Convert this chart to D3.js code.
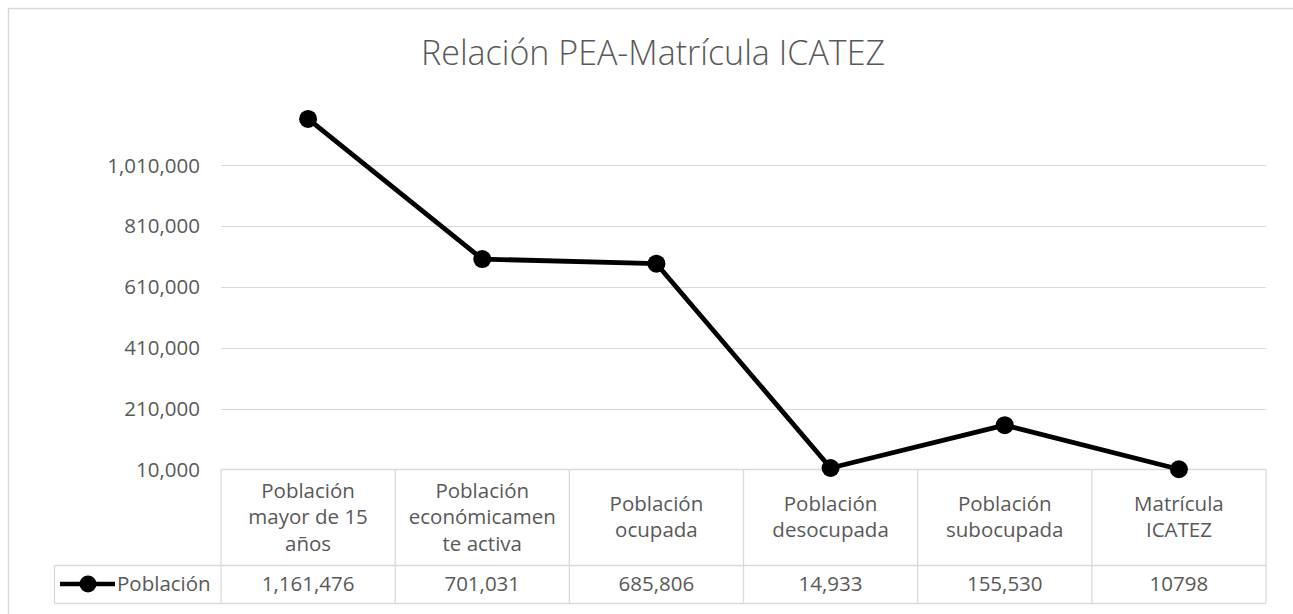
<!DOCTYPE html>
<html><head><meta charset="utf-8">
<script src="https://cdn.jsdelivr.net/npm/d3@7/dist/d3.min.js"></script>
<style>
html,body{margin:0;padding:0;background:#fff;}
svg{display:block;font-family:"Open Sans",Lato,sans-serif;}
</style></head><body>
<svg id="chart" width="1293" height="614"></svg>
<script>
const title = "Relación PEA-Matrícula ICATEZ";
const seriesName = "Población";
const categories = [
  ["Población", "mayor de 15", "años"],
  ["Población", "económicamen", "te activa"],
  ["Población", "ocupada"],
  ["Población", "desocupada"],
  ["Población", "subocupada"],
  ["Matrícula", "ICATEZ"]
];
const values = [1161476, 701031, 685806, 14933, 155530, 10798];
const valueLabels = ["1,161,476", "701,031", "685,806", "14,933", "155,530", "10798"];
const yTicks = [10000, 210000, 410000, 610000, 810000, 1010000];
const yDomain = [10000, 1210000];

const svg = d3.select("#chart");
const grey = "#d9d9d9", txt = "#595959";
const fs = 20.5;
const ff = "'Open Sans',Lato,sans-serif";

// outer frame
svg.append("rect").attr("x", 8.5).attr("y", 8.5).attr("width", 1300).attr("height", 620)
  .attr("fill", "none").attr("stroke", grey).attr("stroke-width", 1.5);

const left = 221, right = 1266;
const x = d3.scaleBand().domain(d3.range(categories.length)).range([left, right]);
const y = d3.scaleLinear().domain(yDomain).range([469.5, 104.1]);

// gridlines
svg.append("g").selectAll("line").data(yTicks.slice(1)).join("line")
  .attr("x1", left).attr("x2", right)
  .attr("y1", d => Math.round(y(d)) + 0.5).attr("y2", d => Math.round(y(d)) + 0.5)
  .attr("stroke", grey).attr("stroke-width", 1);

// y-axis labels
const yAxis = d3.axisLeft(y).tickValues(yTicks).tickSize(0).tickPadding(0)
  .tickFormat(d3.format(","));
const ya = svg.append("g").attr("transform", `translate(200,0)`).call(yAxis);
ya.select(".domain").remove();
ya.selectAll("text").attr("fill", txt).attr("font-size", fs).attr("dy", 7)
  .style("font-family", ff);

// title
svg.append("text").attr("x", 653).attr("y", 65).attr("text-anchor", "middle")
  .attr("font-size", 34).attr("font-weight", 300).attr("fill", txt).text(title);

// data table
const tTop = 469.5, tMid = 565.5, tBot = 603.5, legLeft = 54.5;
const tg = svg.append("g").attr("stroke", grey).attr("stroke-width", 1.3).attr("fill", "none");
tg.append("line").attr("x1", left).attr("x2", right).attr("y1", tTop).attr("y2", tTop);
tg.append("line").attr("x1", legLeft).attr("x2", right).attr("y1", tMid).attr("y2", tMid);
tg.append("line").attr("x1", legLeft).attr("x2", right).attr("y1", tBot).attr("y2", tBot);
tg.append("line").attr("x1", legLeft).attr("x2", legLeft).attr("y1", tMid).attr("y2", tBot);
tg.selectAll(".v").data(d3.range(categories.length + 1)).join("line")
  .attr("x1", i => i < categories.length ? x(i) : right)
  .attr("x2", i => i < categories.length ? x(i) : right)
  .attr("y1", tTop).attr("y2", tBot);

// category labels
const lh = 26.5;
const cg = svg.append("g").attr("fill", txt).attr("font-size", fs).attr("text-anchor", "middle");
categories.forEach((lines, i) => {
  const cx = x(i) + x.bandwidth() / 2;
  const midY = (tTop + tMid) / 2;
  const y0 = midY - (lines.length - 1) * lh / 2 + 6.5;
  lines.forEach((l, j) => {
    cg.append("text").attr("x", cx).attr("y", y0 + j * lh).text(l);
  });
});
// value labels
svg.append("g").attr("fill", txt).attr("font-size", fs).attr("text-anchor", "middle")
  .selectAll("text").data(valueLabels).join("text")
  .attr("x", (d, i) => x(i) + x.bandwidth() / 2).attr("y", (tMid + tBot) / 2 + 6.5).text(d => d);

// legend key
svg.append("line").attr("x1", 60).attr("x2", 115).attr("y1", 584).attr("y2", 584)
  .attr("stroke", "#000").attr("stroke-width", 4.5);
svg.append("circle").attr("cx", 88).attr("cy", 584).attr("r", 8.5).attr("fill", "#000");
svg.append("text").attr("x", 117).attr("y", 591).attr("fill", txt).attr("font-size", fs).text(seriesName);

// series line
const line = d3.line().x((d, i) => x(i) + x.bandwidth() / 2).y(d => y(d));
svg.append("path").datum(values).attr("d", line).attr("fill", "none")
  .attr("stroke", "#000").attr("stroke-width", 4.8).attr("stroke-linejoin", "round");
svg.append("g").selectAll("circle").data(values).join("circle")
  .attr("cx", (d, i) => x(i) + x.bandwidth() / 2).attr("cy", d => y(d)).attr("r", 9).attr("fill", "#000");
</script></body></html>
